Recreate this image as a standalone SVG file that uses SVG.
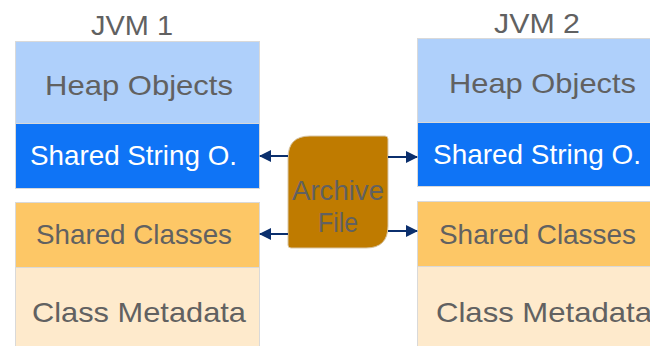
<svg xmlns="http://www.w3.org/2000/svg" width="650" height="346" viewBox="0 0 650 346">
  <style>
    .lbl { font-family: "Liberation Sans", Arial, sans-serif; font-size: 28px; fill: #616161; }
    .wht { fill: #ffffff; }
    .cell { stroke: #d9d9d9; stroke-width: 1; }
    .heap { fill: #afd0fb; }
    .str { fill: #0f74f6; }
    .cls { fill: #fdc766; }
    .meta { fill: #feeacc; }
    .conn { stroke: #0b2f6d; stroke-width: 2; fill: none; }
  </style>
  <defs>
    <marker id="arrow" viewBox="0 0 12 12" refX="11" refY="6" markerWidth="12" markerHeight="12" markerUnits="userSpaceOnUse" orient="auto">
      <path d="M0,0 L12,6 L0,12 Z" fill="#0b2f6d"/>
    </marker>
  </defs>
  <rect width="650" height="346" fill="#ffffff"/>

  <!-- JVM 1 -->
  <g id="jvm1">
    <text class="lbl" x="91" y="35" textLength="82" lengthAdjust="spacingAndGlyphs">JVM 1</text>
    <g id="jvm1-heap">
      <rect class="cell heap" x="15.5" y="41.5" width="244" height="82"/>
      <text class="lbl" x="45" y="95" textLength="188" lengthAdjust="spacingAndGlyphs">Heap Objects</text>
    </g>
    <g id="jvm1-strings">
      <rect class="cell str" x="15.5" y="123.5" width="244" height="65"/>
      <text class="lbl wht" x="30" y="165" textLength="207" lengthAdjust="spacingAndGlyphs">Shared String O.</text>
    </g>
    <g id="jvm1-classes">
      <rect class="cell cls" x="15.5" y="202.5" width="244" height="65"/>
      <text class="lbl" x="36" y="244" textLength="196" lengthAdjust="spacingAndGlyphs">Shared Classes</text>
    </g>
    <g id="jvm1-meta">
      <rect class="cell meta" x="15.5" y="267.5" width="244" height="90"/>
      <text class="lbl" x="32" y="322" textLength="214" lengthAdjust="spacingAndGlyphs">Class Metadata</text>
    </g>
  </g>

  <!-- JVM 2 -->
  <g id="jvm2">
    <text class="lbl" x="494" y="33" textLength="86" lengthAdjust="spacingAndGlyphs">JVM 2</text>
    <g id="jvm2-heap">
      <rect class="cell heap" x="417.5" y="38.5" width="240" height="84"/>
      <text class="lbl" x="449" y="93" textLength="187" lengthAdjust="spacingAndGlyphs">Heap Objects</text>
    </g>
    <g id="jvm2-strings">
      <rect class="cell str" x="417.5" y="122.5" width="240" height="64"/>
      <text class="lbl wht" x="433" y="164" textLength="208" lengthAdjust="spacingAndGlyphs">Shared String O.</text>
    </g>
    <g id="jvm2-classes">
      <rect class="cell cls" x="417.5" y="201.5" width="240" height="65"/>
      <text class="lbl" x="439" y="244" textLength="197" lengthAdjust="spacingAndGlyphs">Shared Classes</text>
    </g>
    <g id="jvm2-meta">
      <rect class="cell meta" x="417.5" y="266.5" width="240" height="90"/>
      <text class="lbl" x="436" y="322" textLength="216" lengthAdjust="spacingAndGlyphs">Class Metadata</text>
    </g>
  </g>

  <!-- Archive file -->
  <g id="archive">
    <path d="M310,136 L385,136 Q388,136 388,139 L388,226 Q388,248 366,248 L291,248 Q288,248 288,245 L288,158 Q288,136 310,136 Z" fill="#bf7b00" stroke="#d8c7a8" stroke-width="1"/>
    <text class="lbl" x="292" y="200" textLength="92" lengthAdjust="spacingAndGlyphs">Archive</text>
    <text class="lbl" x="318" y="232" textLength="40" lengthAdjust="spacingAndGlyphs">File</text>
  </g>

  <!-- Connectors -->
  <g id="connectors">
    <line class="conn" x1="288" y1="156" x2="260" y2="156" marker-end="url(#arrow)"/>
    <line class="conn" x1="288" y1="234" x2="260" y2="234" marker-end="url(#arrow)"/>
    <line class="conn" x1="388" y1="157" x2="417" y2="157" marker-end="url(#arrow)"/>
    <line class="conn" x1="388" y1="231" x2="417" y2="231" marker-end="url(#arrow)"/>
  </g>
</svg>
